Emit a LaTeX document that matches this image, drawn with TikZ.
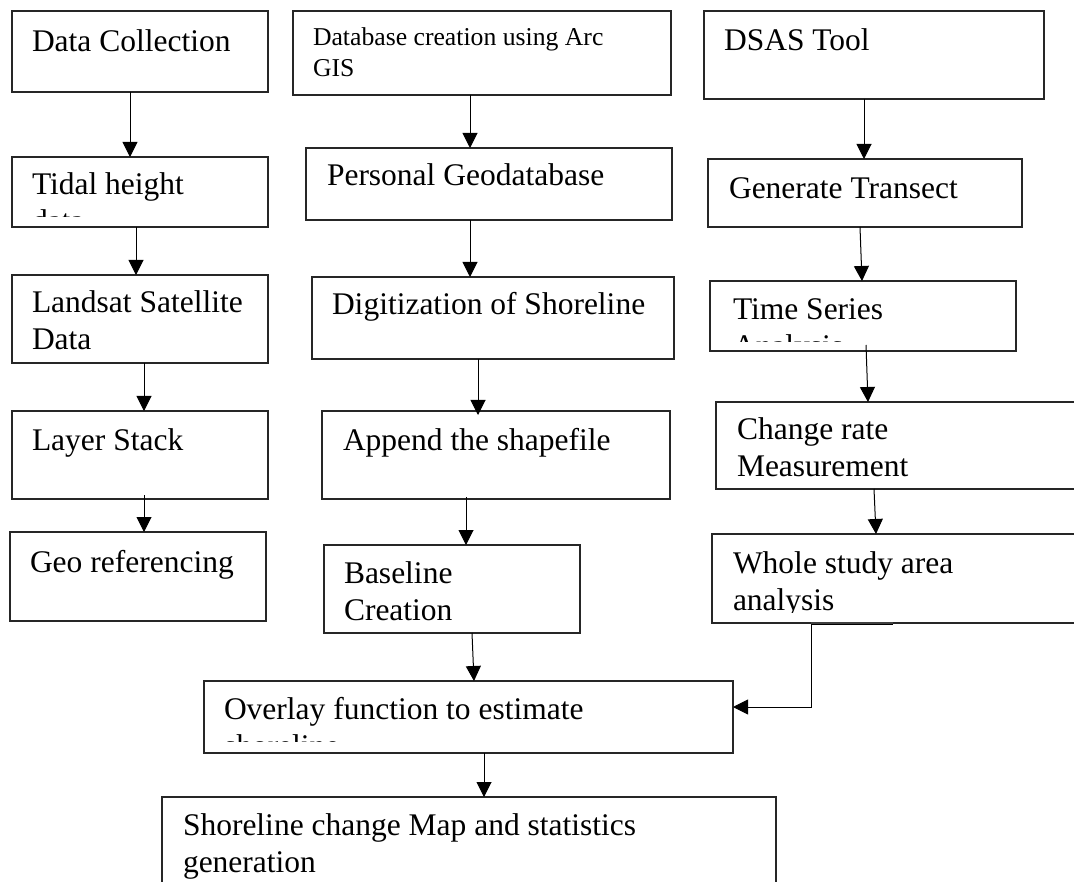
\documentclass[tikz,border=0pt]{standalone}
\usepackage{fontspec}
\setmainfont{Liberation Serif}
\usetikzlibrary{arrows.meta}
\newcommand\tlines[1]{\parbox[t]{700pt}{\raggedright #1}}
\tikzset{
  boxsty/.style={draw=black!85, line width=1.1pt, inner sep=0pt, outer sep=0pt, anchor=north west, rectangle},
  txt/.style={inner sep=0pt, outer sep=0pt, anchor=base west, font=\fontsize{31.5}{37}\selectfont},
  smalltxt/.style={txt, font=\fontsize{25.7}{31}\selectfont},
  arr/.style={draw=black, line width=1pt, -{Triangle[length=15pt,width=15pt]}},
}
\begin{document}
\begin{tikzpicture}[x=1pt,y=-1pt]
\path[use as bounding box, clip] (0,0) rectangle (1074,882);
\fill[white] (0,0) rectangle (1074,882);

% column 1
\node[boxsty, minimum width=256pt, minimum height=81pt] (dc) at (12,11) {};
\node[txt] (dct) at (32,52) {Data Collection};
\node[boxsty, minimum width=256pt, minimum height=70pt] (tidal) at (12,157) {};
\begin{scope}
\clip (12,157) rectangle (268,217);
\node[txt] (tidalt) at (32,195) {\tlines{Tidal height\\data}};
\end{scope}
\node[boxsty, minimum width=256pt, minimum height=88pt] (land) at (12,275) {};
\node[txt] (landt) at (32,313) {\tlines{Landsat Satellite\\Data}};
\node[boxsty, minimum width=256pt, minimum height=88pt] (layer) at (12,411) {};
\node[txt] (layert) at (32,450) {Layer Stack};
\node[boxsty, minimum width=256pt, minimum height=89pt] (geo) at (10,532) {};
\node[txt] (geot) at (30,572) {Geo referencing};

% column 2
\node[boxsty, minimum width=378pt, minimum height=84pt] (db) at (293,11) {};
\node[smalltxt] (dbt) at (313,46) {\tlines{Database creation using Arc\\GIS}};
\node[boxsty, minimum width=366pt, minimum height=72pt] (pg) at (306,148) {};
\node[txt] (pgt) at (327,186) {Personal Geodatabase};
\node[boxsty, minimum width=362pt, minimum height=82pt] (dig) at (312,277) {};
\node[txt] (digt) at (332,315) {Digitization of Shoreline};
\node[boxsty, minimum width=348pt, minimum height=88pt] (app) at (322,411) {};
\node[txt] (appt) at (343,450) {Append the shapefile};
\node[boxsty, minimum width=256pt, minimum height=88pt] (base) at (324,545) {};
\node[txt] (baset) at (344,583) {\tlines{Baseline\\Creation}};

% column 3
\node[boxsty, minimum width=340pt, minimum height=88pt] (dsas) at (704,11) {};
\node[txt] (dsast) at (724,51) {DSAS Tool};
\node[boxsty, minimum width=314pt, minimum height=68pt] (gt) at (708,159) {};
\node[txt] (gtt) at (729,199) {Generate Transect};
\node[boxsty, minimum width=306pt, minimum height=70pt] (ts) at (710,281) {};
\begin{scope}
\clip (710,281) rectangle (1016,342);
\node[txt] (tst) at (733,320) {\tlines{Time Series\\Analysis}};
\end{scope}
\node[boxsty, minimum width=380pt, minimum height=87pt] (cr) at (716,402) {};
\node[txt] (crt) at (737,439) {\tlines{Change rate\\Measurement}};
\node[boxsty, minimum width=384pt, minimum height=89pt] (ws) at (712,534) {};
\begin{scope}
\clip (712,534) rectangle (1096,612);
\node[txt] (wst) at (733,573) {\tlines{Whole study area\\analysis}};
\end{scope}

% bottom
\node[boxsty, minimum width=529pt, minimum height=72pt] (ov) at (204,681) {};
\begin{scope}
\clip (204,681) rectangle (733,741);
\node[txt] (ovt) at (224,719) {\tlines{Overlay function to estimate\\shoreline}};
\end{scope}
\node[boxsty, minimum width=614pt, minimum height=110pt] (sh) at (162,797) {};
\node[txt] (sht) at (183,835) {\tlines{Shoreline change Map and statistics\\generation}};

% connectors
\draw[arr] ([xshift=118pt]dc.south west) -- ([xshift=118pt]tidal.north west);
\draw[arr] ([xshift=124pt]tidal.south west) -- ([xshift=124pt]land.north west);
\draw[arr] ([xshift=132pt]land.south west) -- ([xshift=132pt]layer.north west);
\draw[arr] ([xshift=132pt,yshift=4pt]layer.south west) -- ([xshift=134pt]geo.north west);
\draw[arr] ([xshift=177pt]db.south west) -- ([xshift=164pt]pg.north west);
\draw[arr] ([xshift=164pt]pg.south west) -- ([xshift=158pt]dig.north west);
\draw[arr] ([xshift=166pt]dig.south west) -- ([xshift=156pt,yshift=-4pt]app.north west);
\draw[arr] ([xshift=144pt,yshift=2pt]app.south west) -- ([xshift=142pt]base.north west);
\draw[arr] ([xshift=148pt]base.south west) -- ([xshift=270pt]ov.north west);
\draw[arr] ([xshift=160pt]dsas.south west) -- ([xshift=156pt]gt.north west);
\draw[arr] ([xshift=152pt]gt.south west) -- ([xshift=152pt]ts.north west);
\draw[arr] ([xshift=156pt,yshift=6pt]ts.south west) -- ([xshift=152pt]cr.north west);
\draw[arr] ([xshift=158pt]cr.south west) -- ([xshift=164pt]ws.north west);
\draw[line width=2.2pt, black!75] ([xshift=99pt]ws.south west) -- ([xshift=181pt]ws.south west);
\draw[arr] ([xshift=181pt,yshift=-1pt]ws.south west) -- ([xshift=99pt,yshift=-1pt]ws.south west) |- ([yshift=10pt]ov.east);
\draw[arr] ([xshift=280pt]ov.south west) -- ([xshift=322pt]sh.north west);
\end{tikzpicture}
\end{document}
